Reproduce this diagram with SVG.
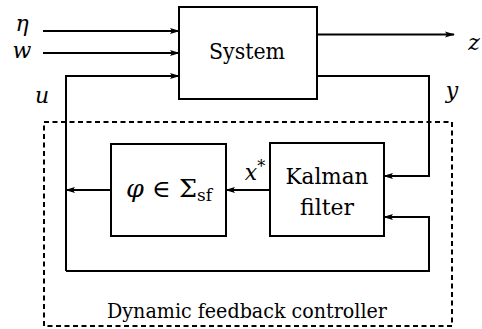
<svg xmlns="http://www.w3.org/2000/svg" width="482" height="329" viewBox="0 0 482 329">
<style>
.box{fill:none;stroke:#000;stroke-width:2}
.ln{fill:none;stroke:#000;stroke-width:2;marker-end:url(#ah)}
text{fill:#000;text-anchor:middle}
.t{font-size:23px}
.m{font-style:italic;font-size:22px}
</style>
<defs>
<marker id="ah" markerWidth="10" markerHeight="8" refX="9" refY="4" orient="auto" markerUnits="userSpaceOnUse">
<path d="M0,1 L10,4 L0,7 L2,4 Z" fill="#000"/>
</marker>
</defs>
<rect width="482" height="329" fill="#fff"/>
<g id="controller">
<rect x="44" y="122" width="408" height="204" fill="none" stroke="#000" stroke-width="2" stroke-dasharray="5,3.5"/>
<text class="t" x="247" y="318" font-family="DejaVu Serif" style="font-size:20px" textLength="280" lengthAdjust="spacingAndGlyphs">Dynamic feedback controller</text>
</g>
<g id="system">
<rect class="box" x="179" y="7" width="138" height="92"/>
<text class="t" x="247" y="59" font-family="DejaVu Serif" textLength="76" lengthAdjust="spacingAndGlyphs">System</text>
</g>
<g id="phi">
<rect class="box" x="111" y="144" width="115" height="92"/>
<text class="m" x="169" y="197" font-family="DejaVu Serif" style="font-size:24px" textLength="86" lengthAdjust="spacingAndGlyphs">φ <tspan font-style="normal">∈ Σ</tspan><tspan font-style="normal" font-size="16" dy="4">sf</tspan></text>
</g>
<g id="kalman">
<rect class="box" x="270" y="143" width="114" height="93"/>
<text class="t" x="327" y="184" font-family="DejaVu Serif" textLength="83" lengthAdjust="spacingAndGlyphs">Kalman</text>
<text class="t" x="327" y="215" font-family="DejaVu Serif" textLength="54" lengthAdjust="spacingAndGlyphs">filter</text>
</g>
<g id="connectors">
<path class="ln" d="M43,31 H179"/>
<path class="ln" d="M43,53 H179"/>
<path class="ln" d="M66,271 V76 H179"/>
<path class="ln" d="M317,34.5 H454"/>
<path class="ln" d="M317,76 H429 V176 H384"/>
<path class="ln" d="M66,271 H429 V217 H384"/>
<path class="ln" d="M111,190 H66"/>
<path class="ln" d="M270,190 H226"/>
</g>
<g id="labels">
<text class="m" x="22" y="31" font-family="DejaVu Serif">η</text>
<text class="m" x="22" y="58" font-family="DejaVu Serif">w</text>
<text class="m" x="42" y="103" font-family="DejaVu Serif">u</text>
<text class="m" x="474" y="50" font-family="DejaVu Serif">z</text>
<text class="m" x="452" y="98" font-family="DejaVu Serif">y</text>
<text class="m" x="255" y="180" font-family="DejaVu Serif">x<tspan font-style="normal" font-size="16" dy="-8">*</tspan></text>
</g>
</svg>
